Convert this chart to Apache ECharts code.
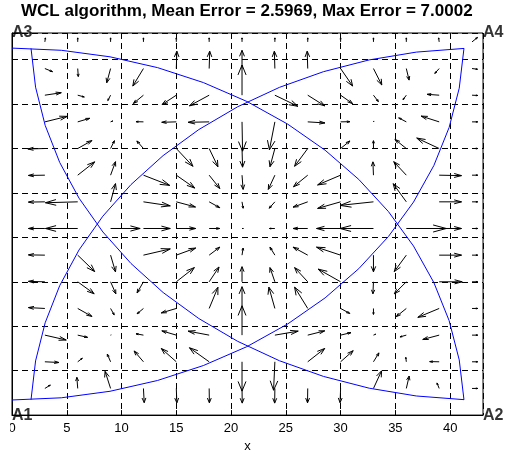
<!DOCTYPE html>
<html>
<head>
<meta charset="utf-8">
<script src="https://cdn.jsdelivr.net/npm/echarts@6/dist/echarts.min.js"></script>
<style>
  html, body { margin: 0; padding: 0; background: #fff; }
  #chart { width: 510px; height: 458px; }
</style>
</head>
<body>
<div id="chart"></div>
<script>
// grid of test points (columns x, rows y from top to bottom)
const gridX = [3, 6, 9, 12, 15, 18, 21, 24, 27, 30, 33, 36, 39, 42];
const gridY = [42, 39, 36, 33, 30, 27, 24, 21, 18, 15, 12, 9, 6, 3];

// error vectors as drawn (data units), one row per gridY
const U = [
  [0.05, 0, 0, 0, 0, 0, 0, 0, 0, 0, 0, 0, -0.05, 0.5],
  [0.7, 0.05, -0.35, -0.97, 0.05, 0.05, 0, -0.05, -0.05, 1.1, 0.76, 0.25, -0.4, 0.5],
  [1.5, 0.6, -0.25, -0.92, -1.3, -1.8, 0, 2.1, 1.55, 1.1, 0.45, -0.3, -1.1, 0.52],
  [2.05, 1.1, 0.2, -0.68, -1.33, -1.92, 0.05, -0.5, 1.57, 0.85, 0.05, -0.7, -1.65, 0.52],
  [-1.55, 1.3, 0.35, -0.6, 1.52, 0.8, 0.05, -0.45, -1.2, 0.85, 0, -1.04, -2.05, 0.52],
  [-1.5, 1.55, 0.45, 2.4, 1.68, 0.97, 0.1, -0.6, -1.3, -2.1, -0.05, -1.15, 2.04, 0.52],
  [-1.5, -2.95, 0.45, 2.45, 1.75, 0.97, 0.1, -0.52, -1.34, -2.1, -3.05, -1.2, 2.04, 0.52],
  [-1.5, -2.95, 2.7, 2.45, 1.77, 0.97, 0.12, -0.5, -1.34, -2.2, -3.05, 3.65, 2.04, 0.52],
  [-1.5, 1.55, 0.45, 2.45, 1.77, 0.97, 0.1, -0.45, -1.34, -2.2, 0, -1.1, 2.04, 0.52],
  [-1.5, 1.5, 0.48, -0.58, 1.65, 0.9, 0, -0.45, -1.2, -2.05, -0.05, -1.1, 2.1, 0.52],
  [-1.5, 1.3, 0.33, -0.58, -1.37, 0.8, 0, -0.55, -1.2, 0.84, 0, -0.92, -1.95, 0.52],
  [1.95, 0.9, 0.05, -0.68, -1.32, -1.92, 0, 2.13, 1.55, 0.95, 0.2, -0.58, -1.5, 0.52],
  [1.28, 0.42, -0.3, -0.85, -1.37, -1.8, 0, -0.12, 1.55, 1.15, 0.5, -0.05, -0.87, 0.52],
  [0.5, -0.08, -0.5, 0.07, 0.05, 0.02, 0.02, -0.02, -0.02, -0.05, 0.74, 0.26, -0.2, 0.52]
];
const V = [
  [0.45, 0.45, 0.45, 0.45, 0.45, 0.45, 0.45, 0.45, 0.45, 0.45, 0.45, 0.45, 0.45, 0.5],
  [-0.35, -0.9, -1.6, -1.97, 1.95, 1.95, 2.05, 1.95, 1.95, -1.97, -1.85, -1.3, -0.55, -0.08],
  [0.28, -0.2, -0.6, -0.93, -1.05, -1.2, 3.4, -1.25, -1.2, -0.95, -0.72, -0.5, 0.1, -0.03],
  [0.62, 0.4, 0.1, 0.02, -0.05, -0.05, -3.3, -3.15, -0.12, 0.02, 0.1, 0.45, 0.65, 0],
  [-0.05, 0.9, 0.88, 0.85, -2.0, -2.05, -2.1, -2.05, -2.0, 0.85, 0.88, 1.03, 1.18, 0],
  [-0.03, 1.5, 1.52, -1.15, -1.45, -1.5, -1.6, -1.6, -1.3, -1.1, 1.5, 1.52, -0.05, 0],
  [-0.03, -0.1, 2.05, -0.45, -0.58, -0.66, -0.72, -0.72, -0.6, -0.74, -0.4, 2.04, 0, 0],
  [0, 0, 0, 0, 0, 0, 0, 0, 0, 0, 0, 0, 0, 0],
  [0.03, -1.85, -1.88, 0.7, 0.8, 0.9, 0.8, 0.9, 0.9, 0.9, -1.88, -1.85, 0, 0],
  [0.05, -1.35, -1.35, -1.25, 1.6, 1.67, 1.7, 1.6, 1.6, 1.43, -1.35, -1.35, 0, 0],
  [0.1, -0.9, -0.72, -0.6, -0.5, 2.38, 2.45, 2.4, 2.4, -0.56, -0.67, -0.92, -1.0, 0],
  [-0.55, -0.25, 0.02, 0.15, 0.48, 0.45, 3.3, 0.45, 0.48, 0.28, 0.1, -0.2, -0.49, 0],
  [-0.08, 0.4, 0.87, 1.22, 1.5, 1.58, -3.3, -3.2, 1.5, 1.25, 1.0, 0.5, 0.02, 0],
  [0.38, 1.25, 1.92, -1.6, -1.62, -1.62, -1.65, -1.65, -1.62, -1.6, 1.98, 1.4, 0.62, 0]
];

// anchors and their range circles
const anchorNames = ['A1', 'A2', 'A3', 'A4'];
const anchorX = [0, 43, 0, 43];
const anchorY = [0, 0, 43, 43];
const rangeR = 41.3;
const arcStart = [2.4, 92.4, -90, 182.4];
const arcEnd = [90, 177.6, -2.4, 267.6];

const titleText = 'WCL algorithm, Mean Error = 2.5969, Max Error = 7.0002';

var arrowData = [];
gridY.forEach(function (y, r) {
  gridX.forEach(function (x, c) {
    arrowData.push([x, y, U[r][c], V[r][c]]);
  });
});

var arcSeries = anchorNames.map(function (name, i) {
  var pts = [];
  var steps = 14;
  for (var k = 0; k <= steps; k++) {
    var t = (arcStart[i] + (arcEnd[i] - arcStart[i]) * k / steps) * Math.PI / 180;
    pts.push([anchorX[i] + rangeR * Math.cos(t), anchorY[i] + rangeR * Math.sin(t)]);
  }
  return {
    type: 'line',
    data: pts,
    showSymbol: false,
    silent: true,
    z: 3,
    lineStyle: { color: '#0000ff', width: 1 }
  };
});

// quiver style arrow: shaft plus two head strokes
function renderArrow(params, api) {
  var x = api.value(0), y = api.value(1), u = api.value(2), v = api.value(3);
  var a = 0.33, b = 0.33;
  var tail = api.coord([x, y]);
  var tip = api.coord([x + u, y + v]);
  var h1 = api.coord([x + u - a * (u + b * v), y + v - a * (v - b * u)]);
  var h2 = api.coord([x + u - a * (u - b * v), y + v - a * (v + b * u)]);
  var style = { stroke: '#000', lineWidth: 1, fill: null };
  return {
    type: 'group',
    children: [
      { type: 'polyline', shape: { points: [tail, tip] }, style: style },
      { type: 'polyline', shape: { points: [h1, tip, h2] }, style: style }
    ]
  };
}

var font = 'Liberation Sans, Arial, sans-serif';
var chart = echarts.init(document.getElementById('chart'));
var option = {
  animation: false,
  title: {
    text: titleText,
    left: 21,
    top: 3,
    padding: 0,
    textStyle: { fontSize: 17, fontWeight: 'bold', fontFamily: font, color: '#000' }
  },
  grid: {
    left: 12, right: 27, top: 33, bottom: 39,
    show: true, borderColor: '#000', borderWidth: 1
  },
  xAxis: {
    type: 'value', min: 0, max: 43, interval: 5,
    name: 'x', nameLocation: 'middle', nameGap: 24,
    nameTextStyle: { fontSize: 13, fontFamily: font, color: '#000' },
    axisLine: { show: true, lineStyle: { color: '#000', width: 1 } },
    axisTick: { show: true, inside: true, length: 5, lineStyle: { color: '#000' } },
    axisLabel: { fontSize: 13, fontFamily: font, color: '#000', margin: 7, showMaxLabel: false },
    splitLine: { show: true, lineStyle: { color: '#000', width: 1, type: [6, 4] } }
  },
  yAxis: {
    type: 'value', min: 0, max: 43, interval: 5,
    axisLine: { show: true, lineStyle: { color: '#000', width: 1 } },
    axisTick: { show: true, inside: true, length: 5, lineStyle: { color: '#000' } },
    axisLabel: { show: false },
    splitLine: { show: true, lineStyle: { color: '#000', width: 1, type: [6, 4] } }
  },
  graphic: [
    { type: 'rect', left: 0, top: 422, z: 100, shape: { width: 10, height: 20 }, style: { fill: '#fff' } }
  ],
  series: [
    {
      type: 'custom',
      renderItem: renderArrow,
      data: arrowData,
      encode: { x: 0, y: 1 },
      clip: false,
      silent: true,
      z: 2
    }
  ].concat(arcSeries).concat([
    {
      type: 'scatter',
      data: anchorNames.map(function (n, i) { return [anchorX[i], anchorY[i], n]; }),
      symbolSize: 0,
      silent: true,
      z: 5,
      label: {
        show: true, position: 'right', distance: 0,
        formatter: function (p) { return p.data[2]; },
        fontSize: 16, fontWeight: 'bold', fontFamily: font, color: '#000'
      }
    }
  ])
};
chart.setOption(option);
window.addEventListener('resize', chart.resize);
</script>
</body>
</html>
